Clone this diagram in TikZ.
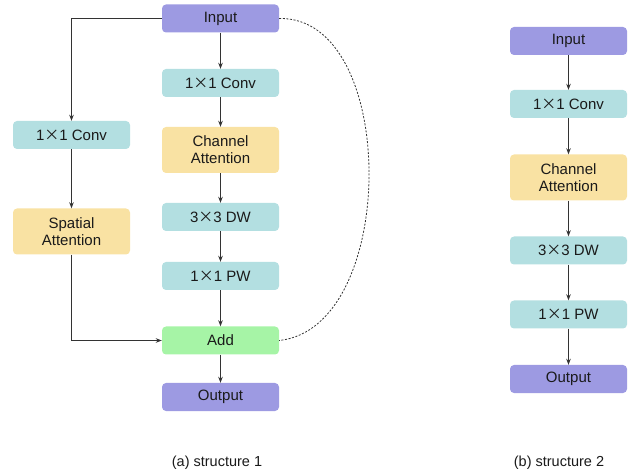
\documentclass[tikz,border=0pt]{standalone}
\usepackage{fontspec}
\setmainfont{Liberation Sans}
\newfontfamily\timesfont{Noto Sans CJK SC}
\usetikzlibrary{arrows.meta}
\definecolor{ioC}{HTML}{9D9AE2}
\definecolor{convC}{HTML}{B3DFE1}
\definecolor{attC}{HTML}{F9E2A3}
\definecolor{addC}{HTML}{A6F4A6}
\definecolor{lineC}{HTML}{333333}
\definecolor{txtC}{HTML}{1A1A1A}
% multiplication sign as set in the block labels
\newcommand{\mx}{{\timesfont\fontsize{15}{15}\selectfont ×}}
\tikzset{
  blk/.style={rounded corners=4pt, draw=none, minimum width=117pt, minimum height=28pt,
    align=center, text=txtC, font=\fontsize{15}{17}\selectfont, inner sep=0pt},
  io/.style={blk, fill=ioC},
  conv/.style={blk, fill=convC},
  att/.style={blk, fill=attC, minimum height=46pt},
  addb/.style={blk, fill=addC},
  flow/.style={draw=lineC, line width=0.8pt, -{Stealth[length=6pt,width=4.5pt]}},
  skip/.style={draw=lineC, line width=0.8pt, dash pattern=on 2pt off 1.6pt},
  caption/.style={text=txtC, font=\fontsize{14.5}{16.5}\selectfont, inner sep=0pt}
}
\begin{document}
\begin{tikzpicture}[x=1pt,y=-1pt]
\useasboundingbox (0,0) rectangle (633,476);
% structure 1: main column
\node[io]   (in1)  at (220.5,18.5)  {Input};
\node[conv] (c1)   at (220.5,83)    {1\mx1 Conv};
\node[att]  (ca1)  at (220.5,150)   {Channel\\Attention};
\node[conv] (dw1)  at (220.5,217)   {3\mx3 DW};
\node[conv] (pw1)  at (220.5,276)   {1\mx1 PW};
\node[addb] (add1) at (220.5,340.5) {Add};
\node[io]   (out1) at (220.5,397)   {Output};
% structure 1: spatial branch
\node[conv] (lc1)  at (71.5,135)    {1\mx1 Conv};
\node[att]  (sa1)  at (71.5,231.5)  {Spatial\\Attention};
% structure 2
\node[io]   (in2)  at (568.5,41)    {Input};
\node[conv] (c2)   at (568.5,104)   {1\mx1 Conv};
\node[att]  (ca2)  at (568.5,177.5) {Channel\\Attention};
\node[conv] (dw2)  at (568.5,250.5) {3\mx3 DW};
\node[conv] (pw2)  at (568.5,314.5) {1\mx1 PW};
\node[io]   (out2) at (568.5,379)   {Output};
% captions
\node[caption] (capa) at (217,463) {(a) structure 1};
\node[caption] (capb) at (559,463) {(b) structure 2};
% connectors, structure 1
\draw[flow] (in1) -- (c1);
\draw[flow] (c1) -- (ca1);
\draw[flow] (ca1) -- (dw1);
\draw[flow] (dw1) -- (pw1);
\draw[flow] (pw1) -- (add1);
\draw[flow] (add1) -- (out1);
\draw[flow] (in1.west) -| (lc1.north);
\draw[flow] (lc1) -- (sa1);
\draw[flow] (sa1.south) |- (add1.west);
\draw[skip] (in1.east) .. controls (399,16) and (399,328) .. (add1.east);
% connectors, structure 2
\draw[flow] (in2) -- (c2);
\draw[flow] (c2) -- (ca2);
\draw[flow] (ca2) -- (dw2);
\draw[flow] (dw2) -- (pw2);
\draw[flow] (pw2) -- (out2);
\end{tikzpicture}
\end{document}
